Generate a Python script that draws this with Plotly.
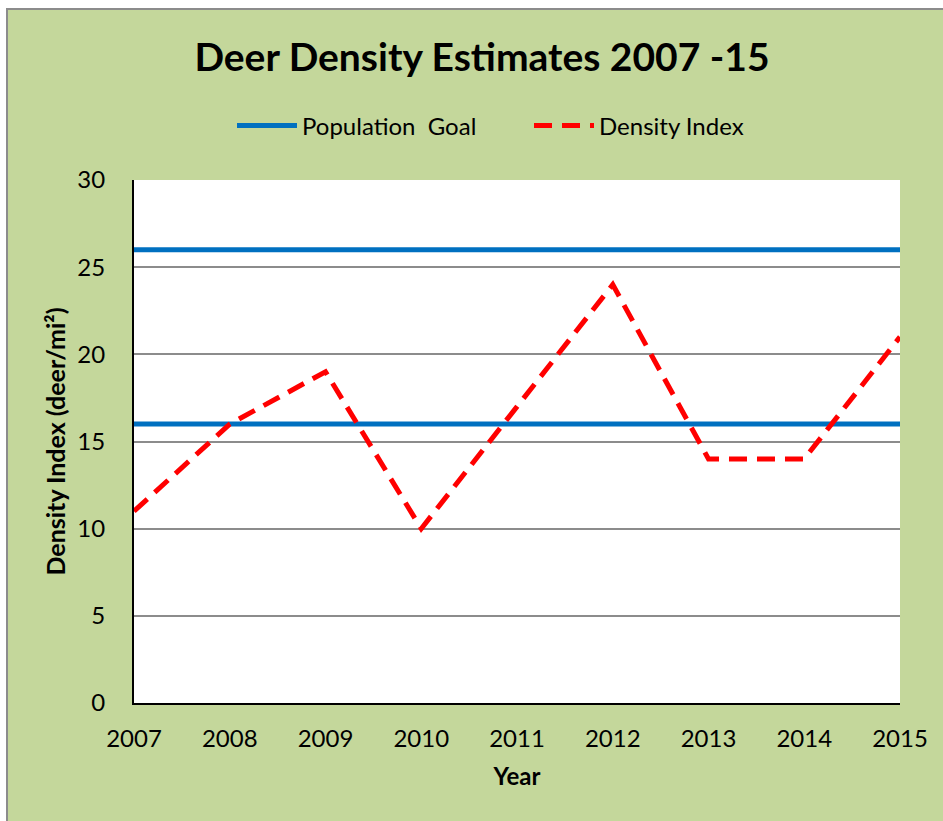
import plotly.graph_objects as go

# Survey years and estimated deer density (deer per square mile)
years = [2007, 2008, 2009, 2010, 2011, 2012, 2013, 2014, 2015]
density_index = [11, 16, 19, 10, 17, 24, 14, 14, 21]

# Population goal band: upper and lower limits
goal_upper = [26] * len(years)
goal_lower = [16] * len(years)

FONT = "Lato, 'Open Sans', sans-serif"
GREEN = "#C4D79B"
BLUE = "#0070C0"
RED = "#FF0000"
GRID = "#8C8C8C"

# plot-area geometry in pixels (for the chart frame drawn in paper coords)
W, H = 943, 821
L, R, T, B = 134, 43, 180, 118
pw, ph = W - L - R, H - T - B


def px_x(p):
    return (p - L) / pw


def px_y(p):
    return (H - B - p) / ph


fig = go.Figure()

fig.add_trace(go.Scatter(
    x=years, y=goal_upper, mode="lines", name="Population  Goal",
    line=dict(color=BLUE, width=5), legendgroup="goal",
))
fig.add_trace(go.Scatter(
    x=years, y=goal_lower, mode="lines", name="Population  Goal",
    line=dict(color=BLUE, width=5), legendgroup="goal", showlegend=False,
))
fig.add_trace(go.Scatter(
    x=years, y=density_index, mode="lines", name="Density Index",
    line=dict(color=RED, width=5, dash="18px,10px"),
))

fig.update_layout(
    width=W, height=H,
    margin=dict(l=L, r=R, t=T, b=B),
    paper_bgcolor="white",
    plot_bgcolor="white",
    font=dict(family=FONT, color="black", size=24),
    title=dict(
        text="<b>Deer Density Estimates 2007 -15</b>",
        x=px_x(482), xref="paper", xanchor="center",
        y=1 - 57 / H, yanchor="middle",
        font=dict(size=39, family=FONT),
    ),
    legend=dict(
        orientation="h", x=px_x(529), xanchor="center",
        y=px_y(126), yanchor="middle", yref="paper",
        bgcolor="rgba(0,0,0,0)", font=dict(size=24), itemwidth=60,
        entrywidth=222,
    ),
    showlegend=True,
    shapes=[
        # green chart frame with a grey border
        dict(type="rect", xref="paper", yref="paper", layer="below",
             x0=px_x(7), x1=px_x(960), y0=px_y(840), y1=px_y(9),
             fillcolor=GREEN, line=dict(color=GRID, width=2)),
        # white plot area
        dict(type="rect", xref="paper", yref="paper", layer="below",
             x0=0, x1=1, y0=0, y1=1,
             fillcolor="white", line=dict(width=0)),
    ],
)

fig.update_xaxes(
    range=[2007, 2015], tickmode="array", tickvals=years,
    ticktext=[str(y) for y in years],
    showgrid=False, zeroline=False,
    showline=True, linecolor="black", linewidth=2,
    ticks="outside", ticklen=13, tickcolor="rgba(0,0,0,0)",
    tickfont=dict(size=24),
    title=dict(text="<b>Year</b>", font=dict(size=24), standoff=17),
)
fig.update_yaxes(
    range=[0, 30], tickmode="array", tickvals=[0, 5, 10, 15, 20, 25, 30],
    showgrid=True, gridcolor=GRID, gridwidth=1.5, zeroline=False,
    showline=True, linecolor="black", linewidth=2,
    ticks="outside", ticklen=22, tickcolor="rgba(0,0,0,0)",
    tickfont=dict(size=24),
    title=dict(text="<b>Density Index (deer/mi²)</b>", font=dict(size=25), standoff=5),
)

fig.write_html("out.html")
